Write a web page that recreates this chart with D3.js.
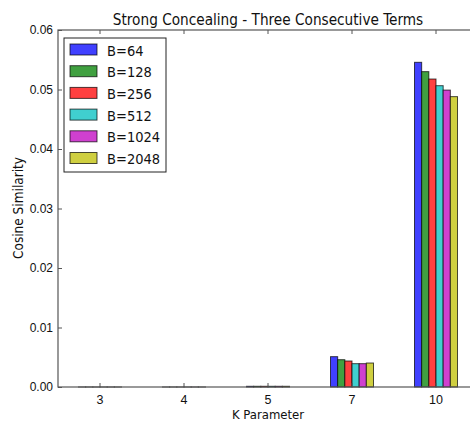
<!DOCTYPE html>
<html>
<head>
<meta charset="utf-8">
<script src="https://cdn.jsdelivr.net/npm/d3@7"></script>
<style>
  html, body { margin: 0; padding: 0; background: #fff; }
  svg { display: block; font-family: "DejaVu Sans Condensed", "DejaVu Sans", sans-serif; font-stretch: condensed; }
</style>
</head>
<body>
<svg id="chart" width="470" height="421"></svg>
<script>
// K parameter values along the x axis
const kValues = ["3", "4", "5", "7", "10"];
// Block sizes shown as grouped bars
const seriesNames = ["B=64", "B=128", "B=256", "B=512", "B=1024", "B=2048"];
const seriesColors = ["#4040ff", "#40a040", "#ff4040", "#40cfcf", "#cf40cf", "#cfcf40"];
// Cosine similarity per block size, one entry per K value
const b64   = [0.000003, 0.000003, 0.00012, 0.00510, 0.05457];
const b128  = [0.000003, 0.000003, 0.00012, 0.00459, 0.05300];
const b256  = [0.000003, 0.000003, 0.00012, 0.00437, 0.05176];
const b512  = [0.000003, 0.000003, 0.00012, 0.00392, 0.05064];
const b1024 = [0.000003, 0.000003, 0.00012, 0.00392, 0.04990];
const b2048 = [0.000003, 0.000003, 0.00012, 0.00403, 0.04880];
const seriesValues = [b64, b128, b256, b512, b1024, b2048];
const yTicks = [0, 0.01, 0.02, 0.03, 0.04, 0.05, 0.06];

const svg = d3.select("#chart");
const plot = { left: 58, right: 478, top: 30, bottom: 387 };

const x = d3.scaleBand().domain(kValues).range([plot.left, plot.right]).paddingInner(0).paddingOuter(0);
const xInner = d3.scaleBand().domain(seriesNames).range([-21.5, 21.5]);
const y = d3.scaleLinear().domain([0, 0.06]).range([plot.bottom, plot.top]);

const axisColor = "#555";

// bars
const groups = svg.append("g").selectAll("g")
  .data(kValues)
  .join("g")
  .attr("transform", d => `translate(${x(d) + x.bandwidth() / 2},0)`);

groups.selectAll("rect")
  .data((k, i) => seriesNames.map((s, j) => ({ s, j, v: seriesValues[j][i] })))
  .join("rect")
  .attr("x", d => xInner(d.s))
  .attr("width", xInner.bandwidth())
  .attr("y", d => y(d.v))
  .attr("height", d => y(0) - y(d.v))
  .attr("fill", d => seriesColors[d.j])
  .attr("stroke", "rgba(0,0,0,0.7)")
  .attr("stroke-width", 1);

// axes
const yAxis = d3.axisLeft(y).tickValues(yTicks).tickFormat(d3.format(".2f")).tickSizeInner(-4).tickSizeOuter(0).tickPadding(5);
const gy = svg.append("g").attr("transform", `translate(${plot.left},0)`).call(yAxis);
gy.select(".domain").remove();
gy.selectAll("line").attr("stroke", axisColor);
gy.selectAll("text").attr("font-size", 12).attr("fill", "#111").attr("font-family", null);

const xAxis = d3.axisBottom(x).tickSizeInner(-4).tickSizeOuter(0).tickPadding(8);
const gx = svg.append("g").attr("transform", `translate(0,${plot.bottom})`).call(xAxis);
gx.select(".domain").remove();
gx.selectAll("line").attr("stroke", axisColor);
gx.selectAll("text").attr("font-size", 12.5).attr("fill", "#111").attr("font-family", null);

// top ticks
const gxTop = svg.append("g").attr("transform", `translate(0,${plot.top})`).call(d3.axisTop(x).tickSizeInner(-4).tickSizeOuter(0).tickFormat(""));
gxTop.select(".domain").remove();
gxTop.selectAll("line").attr("stroke", axisColor);

// frame
svg.append("rect")
  .attr("x", plot.left).attr("y", plot.top)
  .attr("width", plot.right - plot.left).attr("height", plot.bottom - plot.top)
  .attr("fill", "none").attr("stroke", axisColor).attr("stroke-width", 1.2);

// titles
svg.append("text").attr("x", 268).attr("y", 25).attr("text-anchor", "middle")
  .attr("font-size", 15.2).attr("fill", "#111").text("Strong Concealing - Three Consecutive Terms");
svg.append("text").attr("x", 268).attr("y", 419).attr("text-anchor", "middle")
  .attr("font-size", 13).attr("fill", "#111").text("K Parameter");
svg.append("text").attr("transform", "translate(23,208) rotate(-90)").attr("text-anchor", "middle")
  .attr("font-size", 13.5).attr("fill", "#111").text("Cosine Similarity");

// legend
const legend = svg.append("g").attr("transform", "translate(64,38)");
legend.append("rect").attr("width", 102).attr("height", 134)
  .attr("fill", "#fff").attr("stroke", "#222").attr("stroke-width", 1);
const items = legend.selectAll("g.item").data(seriesNames).join("g")
  .attr("class", "item")
  .attr("transform", (d, i) => `translate(6,${6 + i * 21.7})`);
items.append("rect").attr("width", 27).attr("height", 11)
  .attr("fill", (d, i) => seriesColors[i]).attr("stroke", "rgba(0,0,0,0.7)");
items.append("text").attr("x", 37).attr("y", 11.5).attr("font-size", 14.5).attr("fill", "#111").text(d => d);
</script>
</body>
</html>
